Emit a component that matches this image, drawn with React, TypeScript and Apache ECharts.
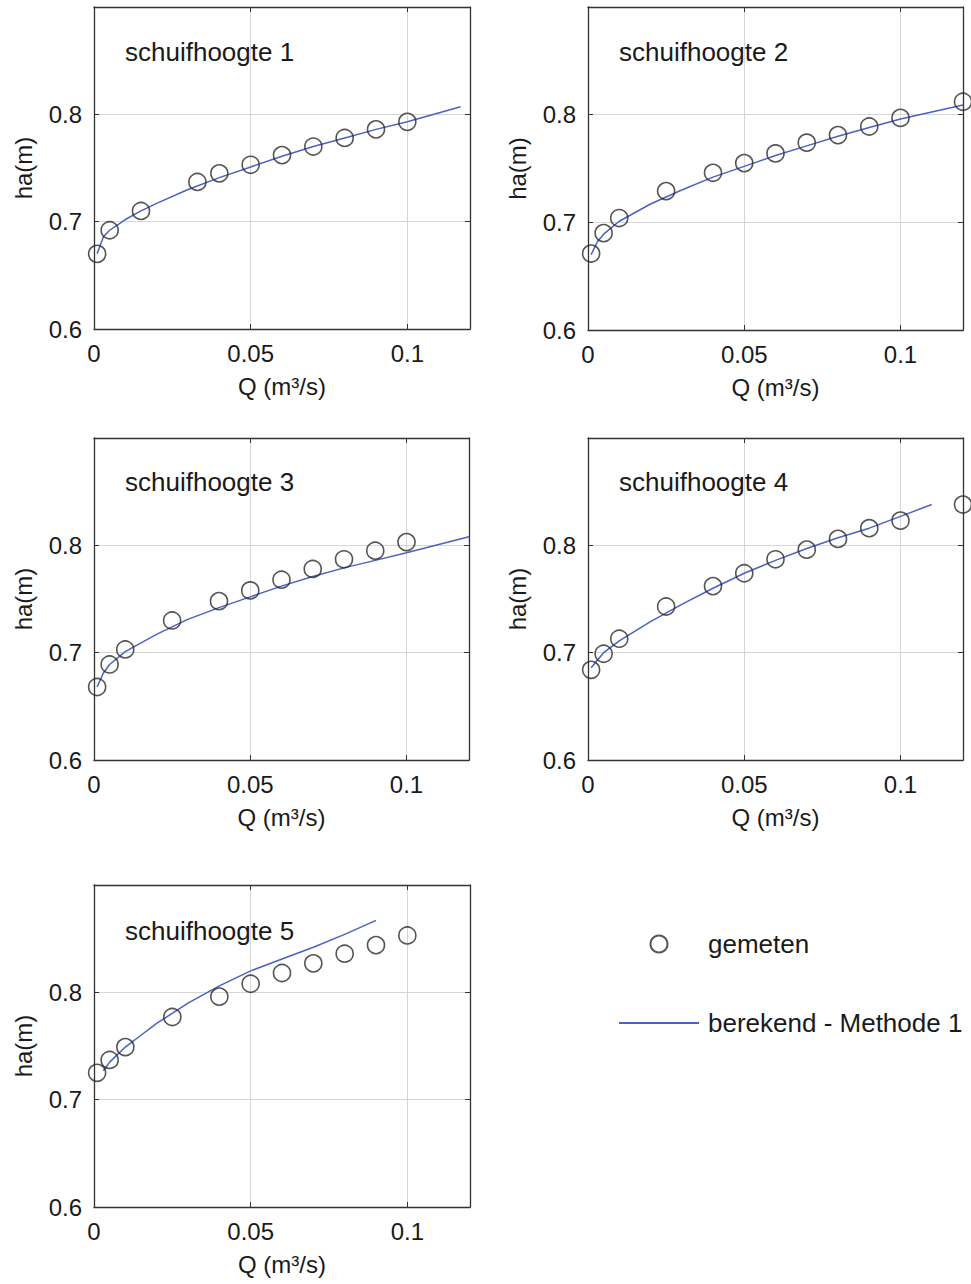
import React, { useEffect, useRef } from "react";
import * as echarts from "echarts";

// ---- data ----
const panelTitles = ["schuifhoogte 1", "schuifhoogte 2", "schuifhoogte 3", "schuifhoogte 4", "schuifhoogte 5"];
const xTickValues = [0, 0.05, 0.1];
const yTickValues = [0.6, 0.7, 0.8];

const qMeas1 = [0.001, 0.005, 0.015, 0.033, 0.04, 0.05, 0.06, 0.07, 0.08, 0.09, 0.1];
const hMeas1 = [0.670, 0.692, 0.710, 0.737, 0.745, 0.753, 0.762, 0.770, 0.778, 0.786, 0.793];
const qMeas2 = [0.001, 0.005, 0.01, 0.025, 0.04, 0.05, 0.06, 0.07, 0.08, 0.09, 0.1, 0.12];
const hMeas2 = [0.671, 0.690, 0.704, 0.729, 0.746, 0.755, 0.764, 0.774, 0.781, 0.789, 0.797, 0.812];
const qMeas3 = [0.001, 0.005, 0.01, 0.025, 0.04, 0.05, 0.06, 0.07, 0.08, 0.09, 0.1];
const hMeas3 = [0.668, 0.689, 0.703, 0.730, 0.748, 0.758, 0.768, 0.778, 0.787, 0.795, 0.803];
const qMeas4 = [0.001, 0.005, 0.01, 0.025, 0.04, 0.05, 0.06, 0.07, 0.08, 0.09, 0.1, 0.12];
const hMeas4 = [0.684, 0.699, 0.713, 0.743, 0.762, 0.774, 0.787, 0.796, 0.806, 0.816, 0.823, 0.838];
const qMeas5 = [0.001, 0.005, 0.01, 0.025, 0.04, 0.05, 0.06, 0.07, 0.08, 0.09, 0.1];
const hMeas5 = [0.725, 0.737, 0.749, 0.777, 0.796, 0.808, 0.818, 0.827, 0.836, 0.844, 0.853];

const qCalc1 = [0.001, 0.003, 0.005, 0.01, 0.015, 0.02, 0.03, 0.04, 0.05, 0.06, 0.07, 0.08, 0.09, 0.1, 0.117];
const hCalc1 = [0.670, 0.686, 0.692, 0.702, 0.710, 0.717, 0.730, 0.741, 0.751, 0.761, 0.770, 0.778, 0.786, 0.793, 0.807];
const qCalc2 = [0.001, 0.003, 0.005, 0.01, 0.02, 0.03, 0.04, 0.05, 0.06, 0.07, 0.08, 0.09, 0.1, 0.12];
const hCalc2 = [0.670, 0.682, 0.689, 0.701, 0.717, 0.730, 0.742, 0.752, 0.762, 0.771, 0.780, 0.788, 0.796, 0.809];
const qCalc3 = [0.001, 0.003, 0.005, 0.01, 0.02, 0.03, 0.04, 0.05, 0.06, 0.07, 0.08, 0.09, 0.1, 0.12];
const hCalc3 = [0.668, 0.681, 0.689, 0.701, 0.717, 0.731, 0.742, 0.752, 0.762, 0.771, 0.779, 0.786, 0.793, 0.808];
const qCalc4 = [0.001, 0.005, 0.01, 0.02, 0.03, 0.04, 0.05, 0.06, 0.07, 0.08, 0.09, 0.1, 0.11];
const hCalc4 = [0.686, 0.700, 0.711, 0.729, 0.745, 0.760, 0.774, 0.786, 0.797, 0.807, 0.816, 0.827, 0.838];
const qCalc5 = [0.003, 0.005, 0.01, 0.015, 0.02, 0.03, 0.04, 0.05, 0.06, 0.07, 0.08, 0.09];
const hCalc5 = [0.727, 0.735, 0.749, 0.760, 0.771, 0.790, 0.806, 0.820, 0.831, 0.842, 0.854, 0.867];

const measured = [
  [qMeas1, hMeas1],
  [qMeas2, hMeas2],
  [qMeas3, hMeas3],
  [qMeas4, hMeas4],
  [qMeas5, hMeas5],
];
const calculated = [
  [qCalc1, hCalc1],
  [qCalc2, hCalc2],
  [qCalc3, hCalc3],
  [qCalc4, hCalc4],
  [qCalc5, hCalc5],
];

const MEAS_NAME = "gemeten";
const CALC_NAME = "berekend - Methode 1";

// ---- layout ----
const grids = [
  { left: 94, top: 7, width: 376, height: 322 },
  { left: 588, top: 7, width: 375, height: 323 },
  { left: 94, top: 438, width: 375, height: 322 },
  { left: 588, top: 438, width: 375, height: 322 },
  { left: 94, top: 885, width: 376, height: 322 },
];
const titlePos = [
  [125, 52],
  [619, 52],
  [125, 482],
  [619, 482],
  [125, 931],
];

const FONT = "Liberation Sans, Arial, Helvetica, sans-serif";
const INK = "#1a1a1a";
const AXIS = "#333";
const BLUE = "#4b61c6";
const GRIDLINE = "#d6d6d6";

export default function App() {
  const ref = useRef<HTMLDivElement>(null);

  useEffect(() => {
    if (!ref.current) return;
    const chart = echarts.init(ref.current, undefined, { renderer: "svg" });

    const xAxes: any[] = [];
    const yAxes: any[] = [];
    const series: any[] = [];
    const graphics: any[] = [];

    const xFmt = (v: number) => {
      const hit = xTickValues.find((t) => Math.abs(t - v) < 1e-9);
      if (hit === undefined) return "";
      return hit === 0 ? "0" : String(hit);
    };
    const yFmt = (v: number) => {
      const hit = yTickValues.find((t) => Math.abs(t - v) < 1e-9);
      return hit === undefined ? "" : hit.toFixed(1);
    };

    grids.forEach((g, i) => {
      const lineCommon = { lineStyle: { color: AXIS, width: 1.3 } };
      xAxes.push({
        type: "value",
        gridIndex: i,
        min: 0,
        max: 0.12,
        interval: 0.05,
        position: "bottom",
        name: "Q (m³/s)",
        nameLocation: "middle",
        nameGap: 45,
        nameTextStyle: { fontFamily: FONT, fontSize: 24, color: INK },
        axisLine: { show: true, onZero: false, ...lineCommon },
        axisTick: { show: true, inside: true, length: 5, lineStyle: { color: AXIS } },
        axisLabel: { formatter: xFmt, showMaxLabel: false, margin: 12, fontFamily: FONT, fontSize: 24, color: INK },
        splitLine: { show: true, lineStyle: { color: GRIDLINE, width: 1 } },
      });
      xAxes.push({
        type: "value",
        gridIndex: i,
        min: 0,
        max: 0.12,
        interval: 0.05,
        position: "top",
        axisLine: { show: true, onZero: false, ...lineCommon },
        axisTick: { show: true, inside: true, length: 5, lineStyle: { color: AXIS } },
        axisLabel: { show: false },
        splitLine: { show: false },
      });
      yAxes.push({
        type: "value",
        gridIndex: i,
        min: 0.6,
        max: 0.9,
        interval: 0.1,
        position: "left",
        name: "ha(m)",
        nameLocation: "middle",
        nameGap: 59,
        nameRotate: 90,
        nameTextStyle: { fontFamily: FONT, fontSize: 24, color: INK },
        axisLine: { show: true, onZero: false, ...lineCommon },
        axisTick: { show: true, inside: true, length: 5, lineStyle: { color: AXIS } },
        axisLabel: { formatter: yFmt, showMaxLabel: false, margin: 12, fontFamily: FONT, fontSize: 24, color: INK },
        splitLine: { show: true, lineStyle: { color: GRIDLINE, width: 1 } },
      });
      yAxes.push({
        type: "value",
        gridIndex: i,
        min: 0.6,
        max: 0.9,
        interval: 0.1,
        position: "right",
        axisLine: { show: true, onZero: false, ...lineCommon },
        axisTick: { show: true, inside: true, length: 5, lineStyle: { color: AXIS } },
        axisLabel: { show: false },
        splitLine: { show: false },
      });

      const [qc, hc] = calculated[i];
      series.push({
        type: "line",
        name: CALC_NAME,
        xAxisIndex: 2 * i,
        yAxisIndex: 2 * i,
        data: qc.map((q, k) => [q, hc[k]]),
        symbol: "none",
        smooth: false,
        lineStyle: { color: BLUE, width: 1.5 },
        itemStyle: { color: BLUE },
        z: 3,
      });
      const [qm, hm] = measured[i];
      series.push({
        type: "scatter",
        name: MEAS_NAME,
        xAxisIndex: 2 * i,
        yAxisIndex: 2 * i,
        data: qm.map((q, k) => [q, hm[k]]),
        symbol: "circle",
        symbolSize: 17,
        itemStyle: { color: "rgba(0,0,0,0)", borderColor: "#2a2a2a", borderWidth: 1.6 },
        clip: false,
        z: 4,
      });

      graphics.push({
        type: "text",
        x: titlePos[i][0],
        y: titlePos[i][1],
        style: {
          text: panelTitles[i],
          fontFamily: FONT,
          fontSize: 26,
          fill: INK,
          verticalAlign: "middle",
          align: "left",
        },
      });
    });

    chart.setOption({
      animation: false,
      backgroundColor: "#fff",
      textStyle: { fontFamily: FONT },
      grid: grids.map((g) => ({ ...g, containLabel: false })),
      xAxis: xAxes,
      yAxis: yAxes,
      series,
      graphic: graphics,
      legend: {
        orient: "vertical",
        left: 613,
        top: 924,
        itemWidth: 80,
        itemHeight: 17,
        itemGap: 49,
        selectedMode: false,
        data: [
          { name: MEAS_NAME, icon: "circle" },
          { name: CALC_NAME, itemStyle: { color: "rgba(0,0,0,0)", borderWidth: 0, opacity: 0 } },
        ],
        textStyle: { fontFamily: FONT, fontSize: 26, color: INK, lineHeight: 30, padding: [0, 0, 0, 4] },
      },
    });

    return () => chart.dispose();
  }, []);

  return (
    <div
      ref={ref}
      style={{ position: "absolute", left: 0, top: 0, width: 971, height: 1284, background: "#fff" }}
    />
  );
}
